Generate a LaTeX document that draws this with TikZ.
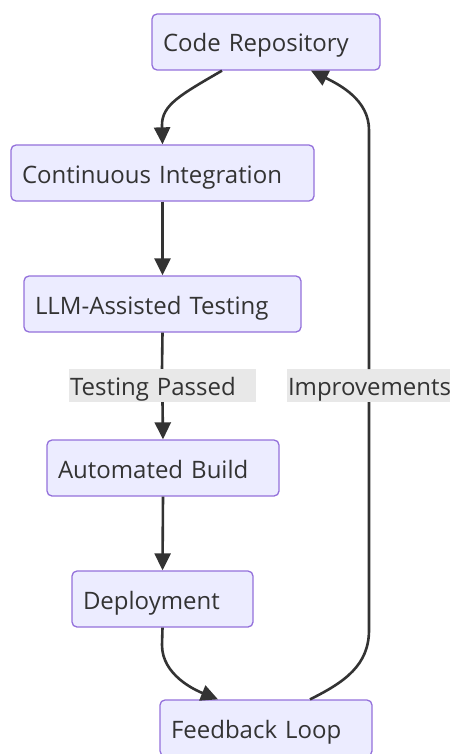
\documentclass[tikz,border=0pt]{standalone}
\usepackage{fontspec}
\setmainfont{Open Sans}
\usetikzlibrary{arrows.meta}
\definecolor{boxfill}{HTML}{ECECFF}
\definecolor{boxline}{HTML}{9370DB}
\definecolor{ink}{HTML}{333333}
\definecolor{lblfill}{HTML}{E8E8E8}
\begin{document}
\begin{tikzpicture}[x=1pt,y=-1pt,
  font=\fontsize{24}{28}\selectfont,
  stepbox/.style={draw=boxline, fill=boxfill, line width=1.3pt, rounded corners=5pt,
    minimum height=56pt, inner xsep=11pt, inner ysep=0pt, align=left, text=ink,
    text height=20pt, text depth=0pt},
  edgelabel/.style={fill=lblfill, minimum height=33pt, inner xsep=1pt, inner ysep=0pt,
    align=left, text=ink, text height=19pt, text depth=0pt},
  edge/.style={draw=ink, line width=2.6pt, -{Triangle[length=17pt,width=16pt]}},
  plain/.style={draw=ink, line width=2.6pt}]
\useasboundingbox (0,0) rectangle (453,754);

\node[stepbox, text width=206pt] (cr) at (266,42) {Code Repository};
\node[stepbox, text width=281pt] (ci) at (162.5,173) {Continuous Integration};
\node[stepbox, text width=255pt] (llm) at (162.5,304) {LLM-Assisted Testing};
\node[stepbox, text width=210pt] (ab) at (163,468) {Automated Build};
\node[stepbox, text width=159pt] (dep) at (162.5,599) {Deployment};
\node[stepbox, text width=190pt] (fb) at (266,728) {Feedback Loop};

% repository to integration
\draw[edge] ([xshift=-44pt]cr.south) .. controls (180,95) and (162,105) .. (162,125) -- (ci.north);
% straight chain
\draw[edge] (ci.south) -- (llm.north);
\draw[plain] (llm.south) -- (162,369);
\node[edgelabel, text width=185pt] (lp) at (162.5,385.5) {Testing Passed};
\draw[edge] (lp.south) -- (ab.north);
\draw[edge] (ab.south) -- (dep.north);
% deployment to feedback
\draw[edge] (dep.south) -- (162,645) .. controls (162,675) and (195,690) .. ([xshift=-48pt]fb.north);
% feedback back to repository
\coordinate (up) at (369,369);
\coordinate (down) at (369,402);
\draw[plain] ([xshift=44pt]fb.north) .. controls (345,682) and (369,665) .. (369,630) -- (down);
\node[edgelabel, text width=161pt] (li) at (368.5,385.5) {Improvements};
\draw[edge] (up) -- (369,130) .. controls (369,100) and (340,85) .. ([xshift=45pt]cr.south);
\end{tikzpicture}
\end{document}
